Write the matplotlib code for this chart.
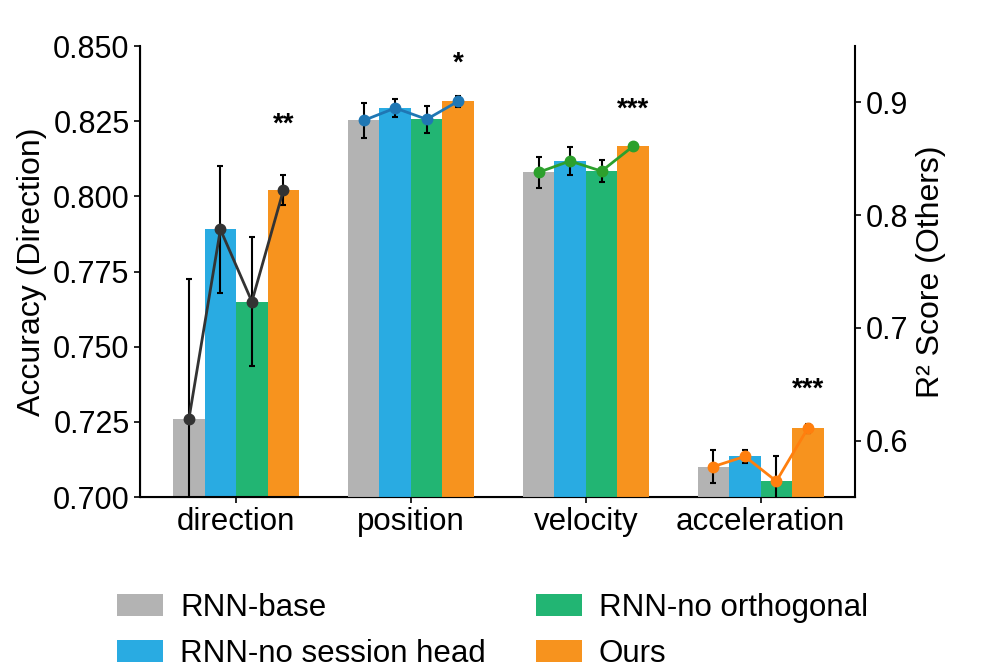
import matplotlib
matplotlib.use("Agg")
import matplotlib.pyplot as plt
import numpy as np

plt.rcParams["font.family"] = ["Liberation Sans", "DejaVu Sans"]

tasks = ["direction", "position", "velocity", "acceleration"]
models = ["RNN-base", "RNN-no session head", "RNN-no orthogonal", "Ours"]
bar_colors = ["#b3b3b3", "#29abe2", "#22b573", "#f7931e"]
line_colors = ["#333333", "#1f77b4", "#2ca02c", "#ff7f0e"]

# rows = tasks, cols = models; direction is accuracy, the others are R^2
means = [
    [0.726, 0.789, 0.765, 0.802],
    [0.884, 0.895, 0.885, 0.901],
    [0.838, 0.848, 0.839, 0.861],
    [0.577, 0.586, 0.564, 0.611],
]
errs = [
    [0.0465, 0.021, 0.0215, 0.005],
    [0.0155, 0.008, 0.012, 0.005],
    [0.0135, 0.012, 0.0095, 0.0],
    [0.015, 0.006, 0.022, 0.004],
]
stars = ["**", "*", "***", "***"]
star_y = [0.8237, 0.934, 0.894, 0.645]


def main():
    fig = plt.figure(figsize=(9.97, 6.64), dpi=100)
    ax = fig.add_axes([0.1404, 0.2515, 0.7172, 0.6792])
    ax2 = ax.twinx()

    width = 0.18
    offsets = (np.arange(len(models)) - 1.5) * width
    x = np.arange(len(tasks))

    for i, task in enumerate(tasks):
        target = ax if i == 0 else ax2
        xs = x[i] + offsets
        for j in range(len(models)):
            target.bar(xs[j], means[i][j], width, color=bar_colors[j],
                       label=models[j] if i == 0 else None, zorder=2)
        target.errorbar(xs, means[i], yerr=errs[i], fmt="none",
                        ecolor="black", elinewidth=1.5, capsize=2.5,
                        capthick=1.5, zorder=3)
        target.plot(xs, means[i], "-o", color=line_colors[i], lw=2,
                    markersize=7.5, zorder=4)
        target.text(xs[-1], star_y[i], stars[i], ha="center", va="center",
                    fontsize=20, fontweight="bold")

    ax.set_xlim(-0.55, 3.54)
    ax.set_ylim(0.700, 0.850)
    ax.set_yticks([0.700, 0.725, 0.750, 0.775, 0.800, 0.825, 0.850])
    ax.set_yticklabels(["%.3f" % v for v in ax.get_yticks()])
    ax2.set_ylim(0.55, 0.95)
    ax2.set_yticks([0.6, 0.7, 0.8, 0.9])
    ax2.set_yticklabels(["0.6", "0.7", "0.8", "0.9"])
    ax.set_xticks(x)
    ax.set_xticklabels(tasks, fontsize=22.5)

    ax.set_ylabel("Accuracy (Direction)", fontsize=23, labelpad=4)
    ax2.set_ylabel("R² Score (Others)", fontsize=23, labelpad=6)
    ax.tick_params(axis="y", labelsize=22, width=1.2, length=4)
    ax.tick_params(axis="x", width=1.2, length=4)
    ax2.tick_params(axis="y", labelsize=22, width=1.2, length=4)

    ax.spines["top"].set_visible(False)
    ax.spines["right"].set_visible(False)
    ax2.spines["top"].set_visible(False)
    for sp in ["left", "bottom"]:
        ax.spines[sp].set_linewidth(1.5)
    ax2.spines["right"].set_linewidth(1.5)

    fig.legend(loc="upper center", bbox_to_anchor=(0.494, 0.149), ncol=2,
               frameon=False, fontsize=22.5, handlelength=1.47,
               handleheight=0.7, handletextpad=0.55, columnspacing=1.6,
               labelspacing=0.5)

    fig.savefig("out.png", dpi=100)


if __name__ == "__main__":
    main()
